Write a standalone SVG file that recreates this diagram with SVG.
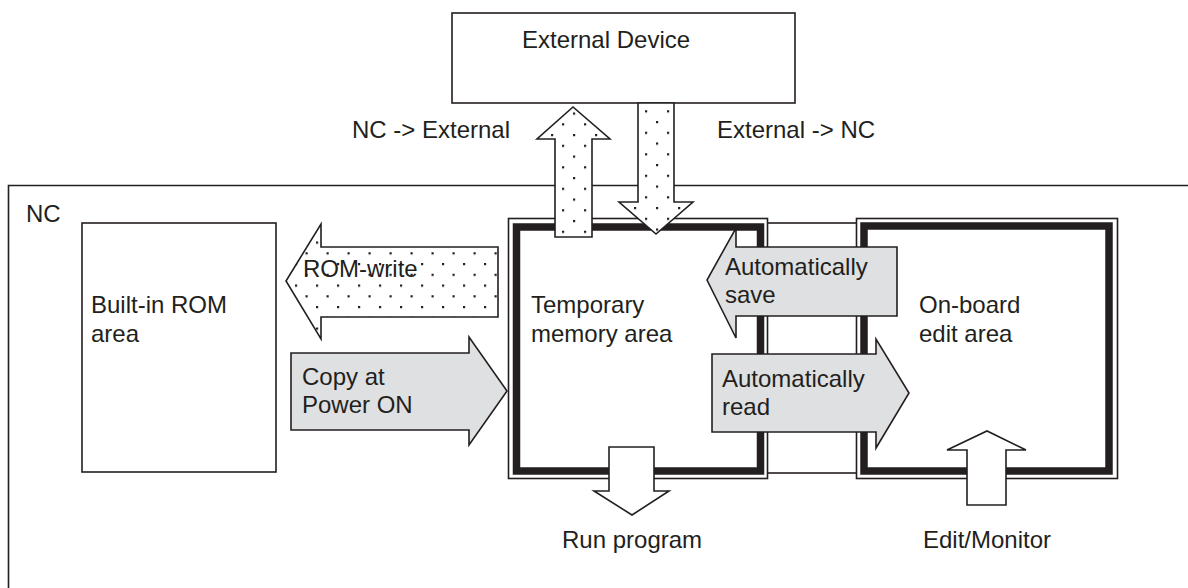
<svg xmlns="http://www.w3.org/2000/svg" width="1188" height="588" viewBox="0 0 1188 588">
<style>
.t{font-family:"Liberation Sans",Arial,sans-serif;font-size:24px;fill:#231f20}
.box{fill:#fff;stroke:#231f20;stroke-width:1.6}
.thick{fill:none;stroke:#231f20;stroke-width:7.5}
.arr{stroke:#231f20;stroke-width:1.6;stroke-linejoin:miter}
.gray{fill:#dfe0e1}
.white{fill:#fff}
</style>
<defs>
<pattern id="dotsUp" patternUnits="userSpaceOnUse" x="1" y="5" width="22" height="21.5">
<rect width="22" height="21.5" fill="#fff"/>
<rect x="0" y="0" width="2.2" height="2.2" fill="#231f20"/>
<rect x="11" y="10.75" width="2.2" height="2.2" fill="#231f20"/>
</pattern>
<pattern id="dotsDown" patternUnits="userSpaceOnUse" x="18" y="13.5" width="22" height="21.5">
<rect width="22" height="21.5" fill="#fff"/>
<rect x="0" y="0" width="2.2" height="2.2" fill="#231f20"/>
<rect x="11" y="10.75" width="2.2" height="2.2" fill="#231f20"/>
</pattern>
<pattern id="dotsRom" patternUnits="userSpaceOnUse" x="1" y="5" width="21" height="21.5">
<rect width="21" height="21.5" fill="#fff"/>
<rect x="0" y="0" width="2.2" height="2.2" fill="#231f20"/>
<rect x="10.5" y="10.75" width="2.2" height="2.2" fill="#231f20"/>
</pattern>
</defs>
<rect width="1188" height="588" fill="#fff"/>

<g id="nc">
<path d="M8.5,588 V185.5 H1188" fill="none" stroke="#231f20" stroke-width="1.6"/>
<text class="t" x="26" y="222">NC</text>
</g>

<g id="external-device">
<rect class="box" x="452" y="13" width="343" height="90"/>
<text class="t" x="522" y="48">External Device</text>
</g>

<g id="rom">
<rect class="box" x="82" y="223" width="194" height="249"/>
<text class="t" x="91" y="313">Built-in ROM</text>
<text class="t" x="91" y="342">area</text>
</g>

<g id="link">
<rect class="box" x="762" y="223" width="100" height="250"/>
</g>

<g id="temporary">
<rect fill="#fff" stroke="#231f20" stroke-width="1.6" x="508.5" y="218.5" width="259" height="260"/>
<rect x="511" y="221" width="254" height="255" fill="none" stroke="#fff" stroke-width="2"/>
<rect class="thick" x="516.5" y="227" width="244" height="244"/>
<text class="t" x="531" y="313">Temporary</text>
<text class="t" x="531" y="342">memory area</text>
</g>

<g id="onboard">
<rect fill="#fff" stroke="#231f20" stroke-width="1.6" x="856.5" y="218.5" width="261" height="260"/>
<rect x="859" y="221" width="256" height="255" fill="none" stroke="#fff" stroke-width="2"/>
<rect class="thick" x="864" y="226" width="245" height="245"/>
<text class="t" x="919" y="313">On-board</text>
<text class="t" x="919" y="342">edit area</text>
</g>

<g id="connectors">
<polygon class="arr" fill="url(#dotsUp)" points="555,237 555,139 537,139 573,107 610,139 592,139 592,237"/>
<polygon class="arr" fill="url(#dotsDown)" points="638,103 674,103 674,202 693,202 656,234 619,202 638,202"/>
<text class="t" x="352" y="138">NC -&gt; External</text>
<text class="t" x="717" y="138">External -&gt; NC</text>

<polygon class="arr" fill="url(#dotsRom)" points="498,247 321,247 321,224 286,281 321,339 321,317 498,317"/>
<text class="t" x="303" y="277">ROM-write</text>

<polygon class="arr gray" points="291,353 469,353 469,337 507,391 469,445 469,430 291,430"/>
<text class="t" x="302" y="385">Copy at</text>
<text class="t" x="302" y="413">Power ON</text>

<polygon class="arr gray" points="897,247 736,247 736,228 707,280 736,338 736,316 897,316"/>
<text class="t" x="725" y="275">Automatically</text>
<text class="t" x="725" y="303">save</text>

<polygon class="arr gray" points="712,354 876,354 876,339 909,393 876,448 876,432 712,432"/>
<text class="t" x="722" y="387">Automatically</text>
<text class="t" x="722" y="415">read</text>

<polygon class="arr white" points="609,447 654,447 654,491 669,491 632,515 594,491 609,491"/>
<text class="t" x="562" y="548">Run program</text>

<polygon class="arr white" points="967,505 967,450 947,450 987,431 1026,450 1006,450 1006,505"/>
<text class="t" x="923" y="548">Edit/Monitor</text>
</g>
</svg>
